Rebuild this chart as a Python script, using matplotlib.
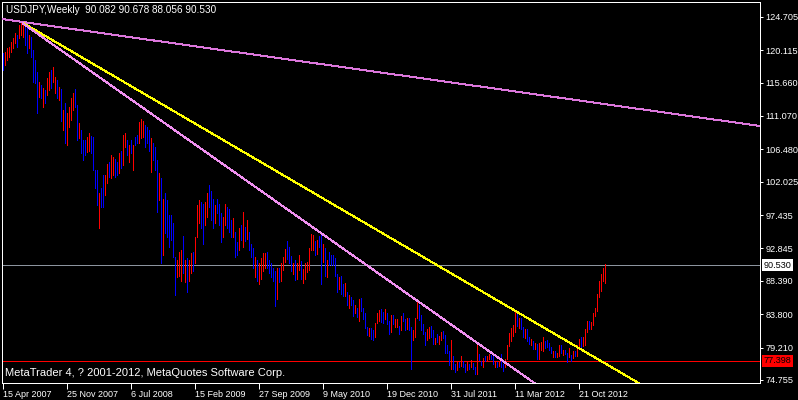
import matplotlib
matplotlib.use("Agg")
import matplotlib.pyplot as plt
import numpy as np

# ---------------------------------------------------------------------------
# Data: USDJPY weekly bars (bar index 0 = 15 Apr 2007)
# ---------------------------------------------------------------------------
HIGH = [
    119.7, 119.8, 120.4, 120.5, 121.2, 121.8, 122.5, 122.2, 123.6, 123.9,
    123.8, 123.3, 123.1, 122.2, 121.9, 120.1, 118.7, 117.1, 115.7, 115.3,
    114.9, 114.6, 116.3, 117.1, 117.4, 117.8, 116.4, 116.0, 115.0, 114.7,
    111.9, 112.8, 111.4, 112.3, 113.5, 114.2, 114.8, 112.5, 110.1, 109.1,
    107.7, 107.7, 108.1, 108.7, 108.3, 108.1, 103.6, 103.6, 100.4, 101.1,
    102.9, 102.9, 104.5, 104.7, 105.7, 105.4, 105.2, 104.7, 105.9, 106.3,
    108.4, 108.7, 107.7, 107.0, 107.7, 107.0, 108.1, 108.4, 110.2, 110.6,
    110.3, 109.8, 109.5, 109.1, 108.0, 107.3, 106.8, 105.0, 103.2, 102.5,
    99.7, 100.5, 99.5, 97.4, 97.4, 96.3, 91.6, 91.2, 92.3, 92.6,
    94.6, 91.2, 91.5, 91.2, 92.2, 92.3, 94.4, 98.8, 99.5, 99.2,
    99.0, 99.2, 100.4, 101.5, 100.8, 99.7, 98.8, 99.7, 99.0, 97.7,
    97.1, 99.0, 98.5, 98.3, 96.7, 97.0, 95.1, 93.7, 95.7, 96.0,
    97.8, 95.8, 96.7, 95.1, 93.5, 92.9, 91.6, 91.2, 90.8, 91.5,
    92.2, 92.2, 92.3, 91.2, 90.8, 90.2, 89.8, 90.2, 90.2, 90.8,
    91.7, 92.8, 93.8, 93.0, 91.8, 90.9, 91.3, 90.9, 91.9, 91.1,
    90.0, 90.8, 91.0, 92.9, 94.8, 94.7, 93.8, 94.0, 94.6, 94.9,
    93.5, 92.9, 91.3, 92.3, 92.0, 92.0, 91.5, 89.3, 88.9, 89.1,
    87.9, 88.1, 86.9, 86.4, 86.2, 85.8, 85.0, 84.6, 85.9, 86.0,
    84.6, 83.9, 82.1, 81.9, 81.9, 81.6, 82.6, 83.9, 84.4, 84.5,
    84.1, 84.5, 84.0, 82.9, 83.7, 83.7, 83.2, 83.2, 82.2, 83.6,
    84.0, 83.2, 83.3, 83.3, 82.0, 81.6, 83.3, 85.5, 85.1, 83.7,
    82.4, 81.4, 81.8, 82.0, 82.2, 81.6, 80.5, 81.1, 80.8, 81.3,
    81.5, 81.0, 79.5, 78.8, 80.3, 78.0, 77.0, 77.2, 77.2, 78.0,
    77.4, 76.9, 77.2, 77.0, 77.5, 77.1, 76.5, 79.5, 78.3, 77.3,
    77.8, 78.1, 78.0, 78.3, 78.2, 78.0, 77.3, 77.2, 77.2, 78.3,
    76.9, 77.7, 79.6, 81.2, 81.9, 82.3, 84.2, 84.0, 83.3, 83.3,
    82.0, 81.8, 81.7, 80.7, 80.4, 80.1, 79.9, 79.7, 79.9, 80.0,
    80.6, 80.1, 80.2, 79.9, 79.3, 78.8, 78.8, 78.5, 79.6, 79.6,
    78.9, 78.9, 78.5, 79.2, 78.2, 78.8, 78.8, 79.5, 80.4, 80.6,
    80.6, 81.8, 82.8, 82.8, 82.7, 84.0, 84.6, 86.6, 88.4, 89.3,
    90.2, 90.678,
]

LOW = [
    117.4, 118.1, 118.7, 119.2, 119.8, 120.4, 121.1, 120.5, 121.8, 122.2,
    121.9, 120.8, 119.7, 120.4, 119.2, 115.7, 115.6, 111.4, 113.6, 113.5,
    112.3, 112.8, 113.9, 114.6, 114.9, 115.7, 114.2, 113.5, 113.2, 110.3,
    109.1, 107.4, 107.0, 109.5, 110.5, 111.9, 112.3, 107.7, 108.0, 105.9,
    105.0, 105.7, 106.1, 106.3, 105.9, 103.6, 101.2, 98.8, 95.6, 98.5,
    98.5, 100.2, 101.8, 102.6, 102.5, 102.9, 102.6, 102.9, 103.2, 103.9,
    104.3, 106.8, 105.7, 104.7, 105.9, 103.6, 107.0, 107.3, 107.3, 108.0,
    108.1, 106.8, 107.3, 106.3, 103.3, 105.0, 103.6, 97.8, 99.5, 90.8,
    91.9, 95.0, 94.4, 93.0, 94.0, 91.6, 86.4, 88.9, 89.1, 88.4,
    89.5, 88.2, 86.8, 88.4, 89.4, 89.8, 90.8, 94.4, 96.4, 95.6,
    93.5, 96.0, 97.1, 98.5, 96.7, 95.6, 96.3, 97.7, 96.0, 93.7,
    94.4, 96.0, 95.6, 95.1, 94.4, 94.4, 91.6, 91.9, 92.6, 94.0,
    93.1, 93.9, 94.2, 92.6, 91.6, 90.1, 88.9, 88.4, 88.0, 88.7,
    89.8, 90.2, 90.2, 89.4, 88.9, 88.4, 84.9, 85.9, 88.2, 88.4,
    89.9, 91.0, 91.4, 90.9, 89.8, 89.3, 88.5, 88.7, 89.9, 88.6,
    88.1, 88.6, 89.6, 89.9, 92.6, 92.6, 92.0, 92.1, 93.0, 88.0,
    91.0, 89.1, 88.9, 90.5, 90.6, 90.5, 89.1, 86.9, 87.2, 86.6,
    86.3, 86.3, 85.0, 84.7, 85.0, 83.6, 84.0, 83.4, 82.9, 84.2,
    83.2, 81.9, 80.9, 80.8, 80.4, 80.2, 80.6, 82.6, 82.9, 82.7,
    82.6, 83.1, 82.5, 81.1, 81.3, 82.5, 82.0, 82.1, 81.1, 81.6,
    82.9, 81.6, 81.7, 81.6, 76.3, 80.2, 80.6, 83.3, 83.0, 81.6,
    81.1, 79.6, 80.3, 80.5, 80.7, 79.7, 79.7, 80.0, 79.7, 80.2,
    80.5, 78.5, 78.4, 76.8, 76.3, 76.3, 75.9, 76.1, 76.5, 76.7,
    76.5, 75.9, 76.1, 76.3, 76.5, 76.3, 75.6, 75.6, 77.5, 76.8,
    76.6, 77.3, 77.4, 77.7, 77.7, 76.9, 76.6, 76.6, 76.7, 76.6,
    76.0, 76.5, 77.6, 79.4, 80.1, 80.8, 81.4, 82.2, 81.9, 81.8,
    80.6, 80.5, 80.1, 79.7, 79.6, 79.0, 79.0, 77.7, 77.7, 78.9,
    78.8, 79.2, 79.3, 78.9, 78.4, 77.9, 77.9, 77.9, 78.1, 78.5,
    78.2, 78.3, 77.2, 77.9, 77.4, 77.8, 78.0, 78.1, 79.4, 79.3,
    79.4, 79.6, 81.3, 81.7, 81.7, 82.3, 83.6, 84.3, 86.1, 87.0,
    88.4, 88.056,
]

# 1 = bar closed up (drawn red), 0 = closed down (drawn blue)
BULL = [
    0, 1, 1, 1, 1, 1, 1, 0, 1, 1,
    1, 0, 0, 1, 0, 0, 0, 0, 1, 0,
    1, 0, 1, 1, 0, 1, 1, 0, 1, 0,
    1, 0, 1, 1, 1, 1, 0, 0, 1, 0,
    0, 0, 1, 1, 0, 0, 0, 0, 1, 0,
    0, 1, 1, 0, 1, 1, 0, 0, 1, 0,
    1, 1, 0, 1, 0, 1, 0, 0, 1, 1,
    1, 0, 0, 0, 1, 0, 0, 0, 1, 0,
    1, 0, 0, 0, 0, 0, 0, 1, 1, 1,
    0, 1, 0, 1, 1, 0, 1, 1, 1, 0,
    0, 1, 1, 0, 0, 0, 1, 0, 0, 0,
    1, 1, 0, 0, 0, 1, 0, 0, 1, 0,
    1, 0, 1, 0, 0, 0, 1, 0, 1, 1,
    1, 1, 0, 0, 0, 0, 0, 1, 0, 1,
    1, 1, 0, 0, 0, 1, 0, 1, 1, 0,
    1, 1, 1, 1, 1, 1, 0, 1, 0, 0,
    1, 0, 1, 0, 0, 0, 0, 0, 1, 0,
    0, 1, 0, 1, 0, 0, 1, 0, 1, 0,
    0, 0, 0, 1, 0, 0, 1, 1, 1, 0,
    0, 1, 0, 0, 1, 0, 1, 1, 0, 1,
    0, 0, 1, 0, 0, 1, 1, 1, 0, 0,
    0, 0, 1, 1, 0, 0, 1, 0, 1, 1,
    0, 0, 0, 0, 1, 0, 0, 1, 0, 1,
    0, 0, 1, 0, 1, 0, 0, 1, 0, 0,
    1, 0, 1, 1, 0, 0, 1, 0, 1, 0,
    0, 1, 1, 1, 1, 1, 1, 0, 1, 0,
    0, 1, 0, 0, 1, 0, 1, 0, 1, 1,
    1, 0, 0, 0, 0, 1, 0, 1, 1, 0,
    1, 0, 0, 1, 0, 1, 0, 1, 1, 0,
    1, 1, 1, 0, 1, 1, 1, 1, 1, 1,
    1, 1,
]

assert len(HIGH) == len(LOW) == len(BULL)

PRICE_TICKS = [124.705, 120.115, 115.660, 111.070, 106.480, 102.025,
               97.435, 92.845, 88.390, 83.800, 79.210, 74.755]
DATE_LABELS = ["15 Apr 2007", "25 Nov 2007", "6 Jul 2008", "15 Feb 2009",
               "27 Sep 2009", "9 May 2010", "19 Dec 2010", "31 Jul 2011",
               "11 Mar 2012", "21 Oct 2012"]
WEEKS_PER_LABEL = 32

LAST_OHLC = [90.082, 90.678, 88.056, 90.530]
BID = 90.530
ALERT_LEVEL = 77.398

# trend lines as (bar, price) anchor pairs
LONG_RESIST = [(0, 124.36), (300, 112.72)]
YELLOW_TREND = [(9.7, 123.88), (317.0, 74.44)]
PINK_TREND = [(9.7, 123.80), (263.35, 74.755)]

# ---------------------------------------------------------------------------
# Plot
# ---------------------------------------------------------------------------
plt.rcParams["font.family"] = "Liberation Sans"
PX = 0.72  # one pixel at 100 dpi

fig = plt.figure(figsize=(7.98, 4.0), dpi=100, facecolor="black")
ax = fig.add_axes([2 / 798, 17 / 400, 758 / 798, 381.5 / 400])
ax.set_facecolor("black")

XMIN, XMAX = -0.65, 378.35
ax.set_xlim(XMIN, XMAX)
ax.set_ylim(74.34, 126.8)

# reference levels (1 px)
ax.axhline(BID, color="#8c949e", lw=PX, antialiased=False, snap=True, zorder=1)
ax.axhline(ALERT_LEVEL, color="#ff0000", lw=PX, antialiased=False, snap=True,
           zorder=1)

# bars
x = np.arange(len(HIGH))
colors = np.where(np.array(BULL) == 1, "#ff0000", "#0000ff")
ax.vlines(x, LOW, HIGH, colors=colors, lw=PX, antialiased=False, zorder=2)

# trend lines
(a0, p0), (a1, p1) = LONG_RESIST
ax.axline((a0, p0), (a1, p1), color="#dd77dd", lw=PX, antialiased=False, zorder=3)
for pts, col in [(YELLOW_TREND, "#ffff00"), (PINK_TREND, "#f090f0")]:
    (b0, q0), (b1, q1) = pts
    slope = (q1 - q0) / (b1 - b0)
    xe = XMAX + 10
    ax.plot([b0, xe], [q0, q0 + slope * (xe - b0)], color=col, lw=PX,
            antialiased=False, zorder=3)

# axes frame
for sp in ax.spines.values():
    sp.set_color("white")
    sp.set_linewidth(PX)

ax.yaxis.tick_right()
ax.set_yticks(PRICE_TICKS)
ax.set_yticklabels([f"{v:.3f}" for v in PRICE_TICKS])
ax.tick_params(axis="y", colors="white", length=2.5, width=PX, pad=1.5,
               labelsize=6.6)

ax.set_xticks(np.arange(len(DATE_LABELS)) * WEEKS_PER_LABEL)
ax.set_xticklabels(DATE_LABELS, ha="left")
ax.tick_params(axis="x", colors="white", length=4, width=PX, pad=1,
               labelsize=6.5)

# price flags on the right scale
for val, fc in [(BID, "white"), (ALERT_LEVEL, "#ff0000")]:
    ax.annotate(f"{val:.3f}", xy=(1, val), xycoords=("axes fraction", "data"),
                xytext=(2.3, 0), textcoords="offset points", ha="left",
                va="center", fontsize=6.6, color="black", annotation_clip=False,
                bbox=dict(boxstyle="square,pad=0.18", fc=fc, ec="none"))

ax.text(0.0055, 0.992,
        "USDJPY,Weekly  " + " ".join(f"{v:.3f}" for v in LAST_OHLC),
        transform=ax.transAxes, color="white", fontsize=7.2, ha="left", va="top")
ax.text(0.004, 0.012, "MetaTrader 4, ? 2001-2012, MetaQuotes Software Corp.",
        transform=ax.transAxes, color="white", fontsize=8.0, ha="left",
        va="bottom")

fig.savefig("out.png", dpi=100, facecolor="black")
